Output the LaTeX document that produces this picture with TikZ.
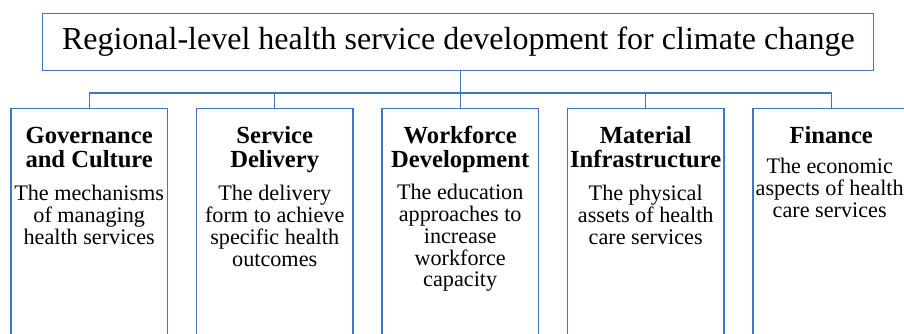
\documentclass[tikz,border=0pt]{standalone}
\usepackage{fontspec}
\setmainfont{Liberation Serif}
\usetikzlibrary{positioning}
\definecolor{linkblue}{RGB}{68,114,196}

\begin{document}
\begin{tikzpicture}[
x=1pt, y=1pt,
node distance=27.8pt,
top/.style={draw=linkblue, line width=1.2pt, minimum width=831pt, minimum height=57pt, inner sep=0pt, font=\fontsize{32}{36}\selectfont},
pillar/.style={draw=linkblue, line width=1.2pt, minimum width=156.5pt, minimum height=260pt, inner sep=0pt},
head/.style={align=center, inner sep=0pt, font=\fontsize{24.6}{24}\selectfont\bfseries},
body/.style={align=center, inner sep=0pt, font=\fontsize{22.2}{21.7}\selectfont},
link/.style={draw=linkblue, line width=1.2pt}
]
\useasboundingbox (0,0) rectangle (904,-333);
\clip (0,0) rectangle (904,-333);
\node[top] (title) at (458.3,-42) {Regional-level health service development for climate change};
\node[pillar, anchor=north] (gov) at (89.2,-107.7) {};
\node[pillar, right=of gov] (ser) {};
\node[pillar, right=of ser] (work) {};
\node[pillar, right=of work] (mat) {};
\node[pillar, right=of mat] (fin) {};
% headings and descriptions
\node[head, anchor=base] (govhead) at ([yshift=-59.3pt]gov.north) {Governance\\and Culture};
\node[body, anchor=base] (govtext) at ([yshift=-136.6pt]gov.north) {The mechanisms\\of managing\\health services};
\node[head, anchor=base] (serhead) at ([yshift=-59.3pt]ser.north) {Service\\Delivery};
\node[body, anchor=base] (sertext) at ([yshift=-158.3pt]ser.north) {The delivery\\form to achieve\\specific health\\outcomes};
\node[head, anchor=base] (workhead) at ([yshift=-59.3pt]work.north) {Workforce\\Development};
\node[body, anchor=base] (worktext) at ([yshift=-179pt]work.north) {The education\\approaches to\\increase\\workforce\\capacity};
\node[head, anchor=base] (mathead) at ([yshift=-59.3pt]mat.north) {Material\\Infrastructure};
\node[body, anchor=base] (mattext) at ([yshift=-136.6pt]mat.north) {The physical\\assets of health\\care services};
\node[head, anchor=base] (finhead) at ([yshift=-35.6pt]fin.north) {Finance};
\node[body, anchor=base] (fintext) at ([xshift=-1.5pt, yshift=-109.5pt]fin.north) {The economic\\aspects of health\\care services};
% connectors
\coordinate (bus) at (0,-93);
\draw[link] (gov.north) -- (gov.north |- bus) -- (fin.north |- bus) -- (fin.north);
\foreach \n in {ser,mat}
  \draw[link] (\n.north) -- (\n.north |- bus);
\draw[link] (title.south -| work.north) -- (work.north);
\end{tikzpicture}
\end{document}
